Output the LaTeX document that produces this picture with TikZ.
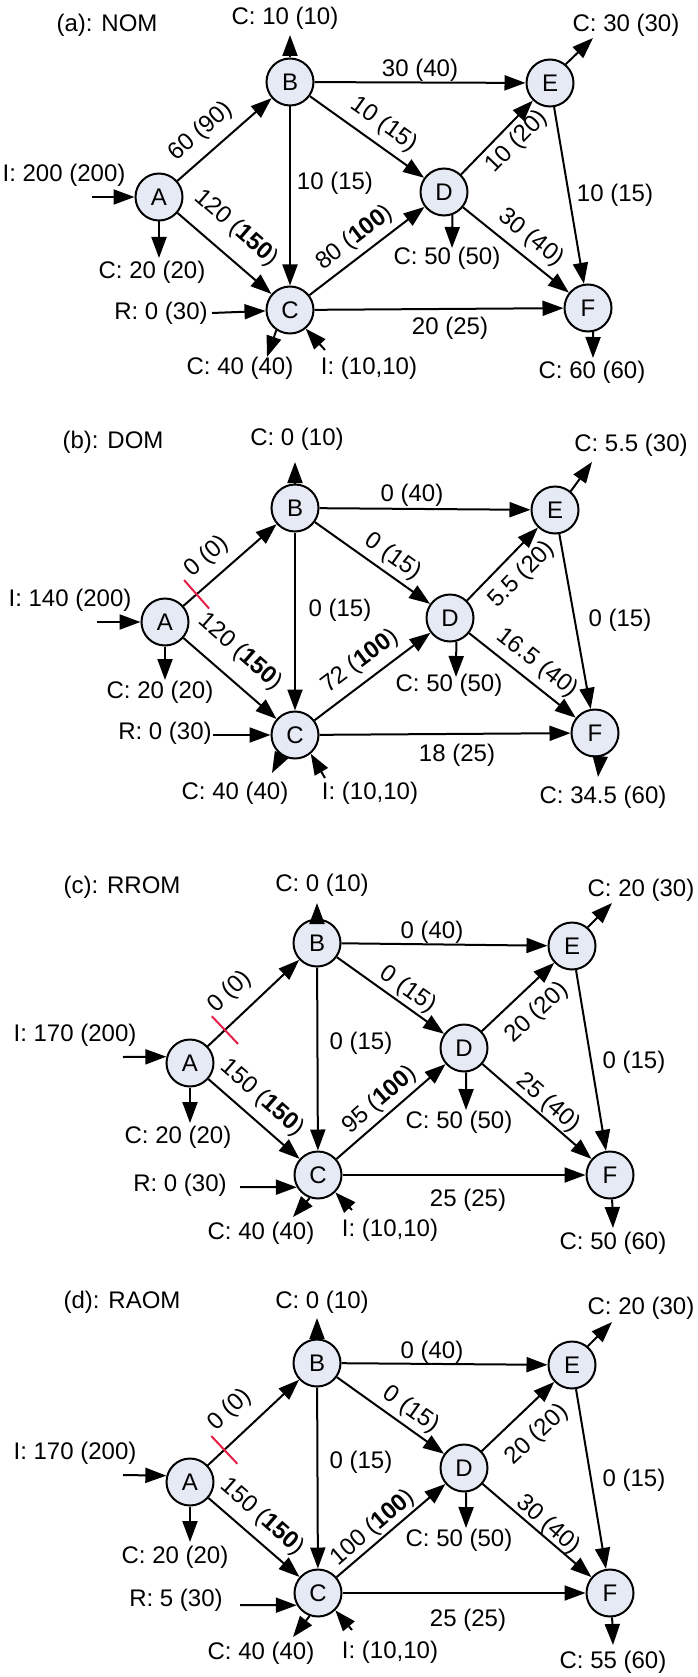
\documentclass[tikz,border=0pt]{standalone}
\usepackage{fontspec}
\setmainfont{Liberation Sans}
\usetikzlibrary{arrows.meta,calc}
\definecolor{nodefill}{RGB}{230,234,245}
\definecolor{tickred}{RGB}{228,30,70}
\begin{document}
\begin{tikzpicture}[x=1pt,y=-1pt,
  every node/.style={font=\fontsize{24}{28}\selectfont},
  nd/.style={circle,draw,line width=2pt,fill=nodefill,minimum size=47pt,inner sep=0pt},
  arr/.style={line width=2pt,-{Triangle[length=21pt,width=15pt]}},
  lab/.style={inner sep=1pt},
  tk/.style={draw=tickred,line width=2pt}]
\useasboundingbox[fill=white] (0,0) rectangle (697,1677);

% ---------------- panel (a) ----------------
\node[lab] (aT) at (107,25) {(a): NOM};
\node[nd] (aA) at (159,197) {A};
\node[nd] (aB) at (290,82) {B};
\node[nd] (aC) at (290,310) {C};
\node[nd] (aD) at (444,192) {D};
\node[nd] (aE) at (550,83) {E};
\node[nd] (aF) at (588,308) {F};
\draw[arr] (aA) -- (aB);
\draw[arr] (aA) -- (aC);
\draw[arr] (aB) -- (aC);
\draw[arr] (aB) -- (aE);
\draw[arr] (aB) -- (aD);
\draw[arr] (aC) -- (aD);
\draw[arr] (aC) -- (aF);
\draw[arr] (aD) -- (aE);
\draw[arr] (aD) -- (aF);
\draw[arr] (aE) -- (aF);
\node[lab,rotate=41.3] at (201,132) {60 (90)};
\node[lab,rotate=-40.8] at (236,228) {120 (\textbf{150})};
\node[lab] at (335,183) {10 (15)};
\node[lab] at (420,70) {30 (40)};
\node[lab,rotate=-35.5] at (384,125) {10 (15)};
\node[lab,rotate=37.5] at (355,238) {80 (\textbf{100})};
\node[lab] at (450,328) {20 (25)};
\node[lab,rotate=45.8] at (517,142) {10 (20)};
\node[lab,rotate=-38.9] at (531,238) {30 (40)};
\node[lab] at (615,195) {10 (15)};
\coordinate (aAi) at (92,197);
\coordinate (aAo) at (159,258);
\coordinate (aBo) at (290,35);
\coordinate (aCr) at (212,313);
\coordinate (aCo) at (267,357);
\coordinate (aCi) at (325,350);
\coordinate (aDo) at (452,248);
\coordinate (aEo) at (593,38);
\coordinate (aFo) at (593,358);
\draw[arr] (aAi) -- (aA);
\draw[arr] (aA) -- (aAo);
\draw[arr] (aB) -- (aBo);
\draw[arr] (aCr) -- (aC);
\draw[arr] (aC.236) -- (aCo);
\draw[arr] (aCi) -- (aC.-50);
\draw[arr] (aD.-70) -- (aDo);
\draw[arr] (aE.50) -- (aEo);
\draw[arr] (aF.-78) -- (aFo);
\node[lab] at (64,175) {I: 200 (200)};
\node[lab] at (152,272) {C: 20 (20)};
\node[lab] at (285,18) {C: 10 (10)};
\node[lab] at (161,313) {R: 0 (30)};
\node[lab] at (240,368) {C: 40 (40)};
\node[lab] at (369,368) {I: (10,10)};
\node[lab] at (447,258) {C: 50 (50)};
\node[lab] at (626,25) {C: 30 (30)};
\node[lab] at (592,372) {C: 60 (60)};

% ---------------- panel (b) ----------------
\node[lab] (bT) at (113,442) {(b): DOM};
\node[nd] (bA) at (165,622) {A};
\node[nd] (bB) at (295,508) {B};
\node[nd] (bC) at (295,735) {C};
\node[nd] (bD) at (450,618) {D};
\node[nd] (bE) at (555,510) {E};
\node[nd] (bF) at (595,733) {F};
\draw[arr] (bA) -- (bB);
\draw[arr] (bA) -- (bC);
\draw[arr] (bB) -- (bC);
\draw[arr] (bB) -- (bE);
\draw[arr] (bB) -- (bD);
\draw[arr] (bC) -- (bD);
\draw[arr] (bC) -- (bF);
\draw[arr] (bD) -- (bE);
\draw[arr] (bD) -- (bF);
\draw[arr] (bE) -- (bF);
\coordinate (bK) at ($(bA)!42pt!(bB)$);
\draw[tk] ($(bK)!19pt!90:(bB)$) -- ($(bK)!19pt!-90:(bB)$);
\node[lab,rotate=41.2] at (207,557) {0 (0)};
\node[lab,rotate=-41.0] at (240,652) {120 (\textbf{150})};
\node[lab] at (340,610) {0 (15)};
\node[lab] at (412,495) {0 (40)};
\node[lab,rotate=-35.4] at (393,557) {0 (15)};
\node[lab,rotate=37.0] at (360,662) {72 (\textbf{100})};
\node[lab] at (457,755) {18 (25)};
\node[lab,rotate=45.8] at (522,575) {5.5 (20)};
\node[lab,rotate=-38.4] at (537,663) {16.5 (40)};
\node[lab] at (620,620) {0 (15)};
\coordinate (bAi) at (97,622);
\coordinate (bAo) at (165,680);
\coordinate (bBo) at (295,462);
\coordinate (bCr) at (213,735);
\coordinate (bCo) at (272,773);
\coordinate (bCi) at (325,778);
\coordinate (bDo) at (456,677);
\coordinate (bEo) at (592,462);
\coordinate (bFo) at (598,777);
\draw[arr] (bAi) -- (bA);
\draw[arr] (bA) -- (bAo);
\draw[arr] (bB) -- (bBo);
\draw[arr] (bCr) -- (bC);
\draw[arr] (bC.236) -- (bCo);
\draw[arr] (bCi) -- (bC.-50);
\draw[arr] (bD.-75) -- (bDo);
\draw[arr] (bE.50) -- (bEo);
\draw[arr] (bF.-78) -- (bFo);
\node[lab] at (70,600) {I: 140 (200)};
\node[lab] at (160,692) {C: 20 (20)};
\node[lab] at (297,439) {C: 0 (10)};
\node[lab] at (165,733) {R: 0 (30)};
\node[lab] at (235,793) {C: 40 (40)};
\node[lab] at (370,793) {I: (10,10)};
\node[lab] at (449,685) {C: 50 (50)};
\node[lab] at (631,445) {C: 5.5 (30)};
\node[lab] at (603,797) {C: 34.5 (60)};

% ---------------- panel (c) ----------------
\node[lab] (cT) at (122,887) {(c): RROM};
\node[nd] (cA) at (190,1063) {A};
\node[nd] (cB) at (317,943) {B};
\node[nd] (cC) at (318,1175) {C};
\node[nd] (cD) at (464,1048) {D};
\node[nd] (cE) at (572,946) {E};
\node[nd] (cF) at (610,1175) {F};
\draw[arr] (cA) -- (cB);
\draw[arr] (cA) -- (cC);
\draw[arr] (cB) -- (cC);
\draw[arr] (cB) -- (cE);
\draw[arr] (cB) -- (cD);
\draw[arr] (cC) -- (cD);
\draw[arr] (cC) -- (cF);
\draw[arr] (cD) -- (cE);
\draw[arr] (cD) -- (cF);
\draw[arr] (cE) -- (cF);
\coordinate (cK) at ($(cA)!48pt!(cB)$);
\draw[tk] ($(cK)!19pt!90:(cB)$) -- ($(cK)!19pt!-90:(cB)$);
\node[lab,rotate=43.4] at (230,992) {0 (0)};
\node[lab,rotate=-41.2] at (262,1098) {150 (\textbf{150})};
\node[lab] at (361,1043) {0 (15)};
\node[lab] at (432,932) {0 (40)};
\node[lab,rotate=-35.5] at (408,990) {0 (15)};
\node[lab,rotate=41.0] at (380,1100) {95 (\textbf{100})};
\node[lab] at (468,1200) {25 (25)};
\node[lab,rotate=43.4] at (537,1013) {20 (20)};
\node[lab,rotate=-41.0] at (548,1103) {25 (40)};
\node[lab] at (634,1062) {0 (15)};
\coordinate (cAi) at (123,1057);
\coordinate (cAo) at (190,1123);
\coordinate (cBo) at (317,903);
\coordinate (cCr) at (240,1187);
\coordinate (cCo) at (293,1217);
\coordinate (cCi) at (352,1210);
\coordinate (cDo) at (466,1110);
\coordinate (cEo) at (612,903);
\coordinate (cFo) at (613,1228);
\draw[arr] (cAi) -- (cA.165);
\draw[arr] (cA) -- (cAo);
\draw[arr] (cB) -- (cBo);
\draw[arr] (cCr) -- (cC.210);
\draw[arr] (cC.250) -- (cCo);
\draw[arr] (cCi) -- (cC.-45);
\draw[arr] (cD.-85) -- (cDo);
\draw[arr] (cE.50) -- (cEo);
\draw[arr] (cF.-85) -- (cFo);
\node[lab] at (75,1035) {I: 170 (200)};
\node[lab] at (178,1137) {C: 20 (20)};
\node[lab] at (322,885) {C: 0 (10)};
\node[lab] at (180,1185) {R: 0 (30)};
\node[lab] at (261,1233) {C: 40 (40)};
\node[lab] at (390,1230) {I: (10,10)};
\node[lab] at (459,1122) {C: 50 (50)};
\node[lab] at (641,890) {C: 20 (30)};
\node[lab] at (613,1243) {C: 50 (60)};

% ---------------- panel (d) ----------------
\node[lab] (dT) at (122,1302) {(d): RAOM};
\node[nd] (dA) at (190,1482) {A};
\node[nd] (dB) at (317,1363) {B};
\node[nd] (dC) at (318,1593) {C};
\node[nd] (dD) at (464,1468) {D};
\node[nd] (dE) at (572,1365) {E};
\node[nd] (dF) at (610,1593) {F};
\draw[arr] (dA) -- (dB);
\draw[arr] (dA) -- (dC);
\draw[arr] (dB) -- (dC);
\draw[arr] (dB) -- (dE);
\draw[arr] (dB) -- (dD);
\draw[arr] (dC) -- (dD);
\draw[arr] (dC) -- (dF);
\draw[arr] (dD) -- (dE);
\draw[arr] (dD) -- (dF);
\draw[arr] (dE) -- (dF);
\coordinate (dK) at ($(dA)!47pt!(dB)$);
\draw[tk] ($(dK)!19pt!90:(dB)$) -- ($(dK)!19pt!-90:(dB)$);
\node[lab,rotate=43.4] at (230,1410) {0 (0)};
\node[lab,rotate=-41.2] at (262,1517) {150 (\textbf{150})};
\node[lab] at (361,1462) {0 (15)};
\node[lab] at (432,1352) {0 (40)};
\node[lab,rotate=-35.5] at (411,1410) {0 (15)};
\node[lab,rotate=40.6] at (373,1528) {100 (\textbf{100})};
\node[lab] at (468,1620) {25 (25)};
\node[lab,rotate=43.4] at (537,1435) {20 (20)};
\node[lab,rotate=-41.0] at (548,1525) {30 (40)};
\node[lab] at (634,1480) {0 (15)};
\coordinate (dAi) at (123,1475);
\coordinate (dAo) at (190,1542);
\coordinate (dBo) at (317,1318);
\coordinate (dCr) at (240,1605);
\coordinate (dCo) at (293,1637);
\coordinate (dCi) at (352,1630);
\coordinate (dDo) at (466,1528);
\coordinate (dEo) at (612,1322);
\coordinate (dFo) at (613,1645);
\draw[arr] (dAi) -- (dA.165);
\draw[arr] (dA) -- (dAo);
\draw[arr] (dB) -- (dBo);
\draw[arr] (dCr) -- (dC.210);
\draw[arr] (dC.250) -- (dCo);
\draw[arr] (dCi) -- (dC.-45);
\draw[arr] (dD.-85) -- (dDo);
\draw[arr] (dE.50) -- (dEo);
\draw[arr] (dF.-85) -- (dFo);
\node[lab] at (75,1453) {I: 170 (200)};
\node[lab] at (175,1557) {C: 20 (20)};
\node[lab] at (322,1302) {C: 0 (10)};
\node[lab] at (176,1600) {R: 5 (30)};
\node[lab] at (261,1653) {C: 40 (40)};
\node[lab] at (390,1652) {I: (10,10)};
\node[lab] at (459,1540) {C: 50 (50)};
\node[lab] at (641,1308) {C: 20 (30)};
\node[lab] at (613,1662) {C: 55 (60)};
\end{tikzpicture}
\end{document}
